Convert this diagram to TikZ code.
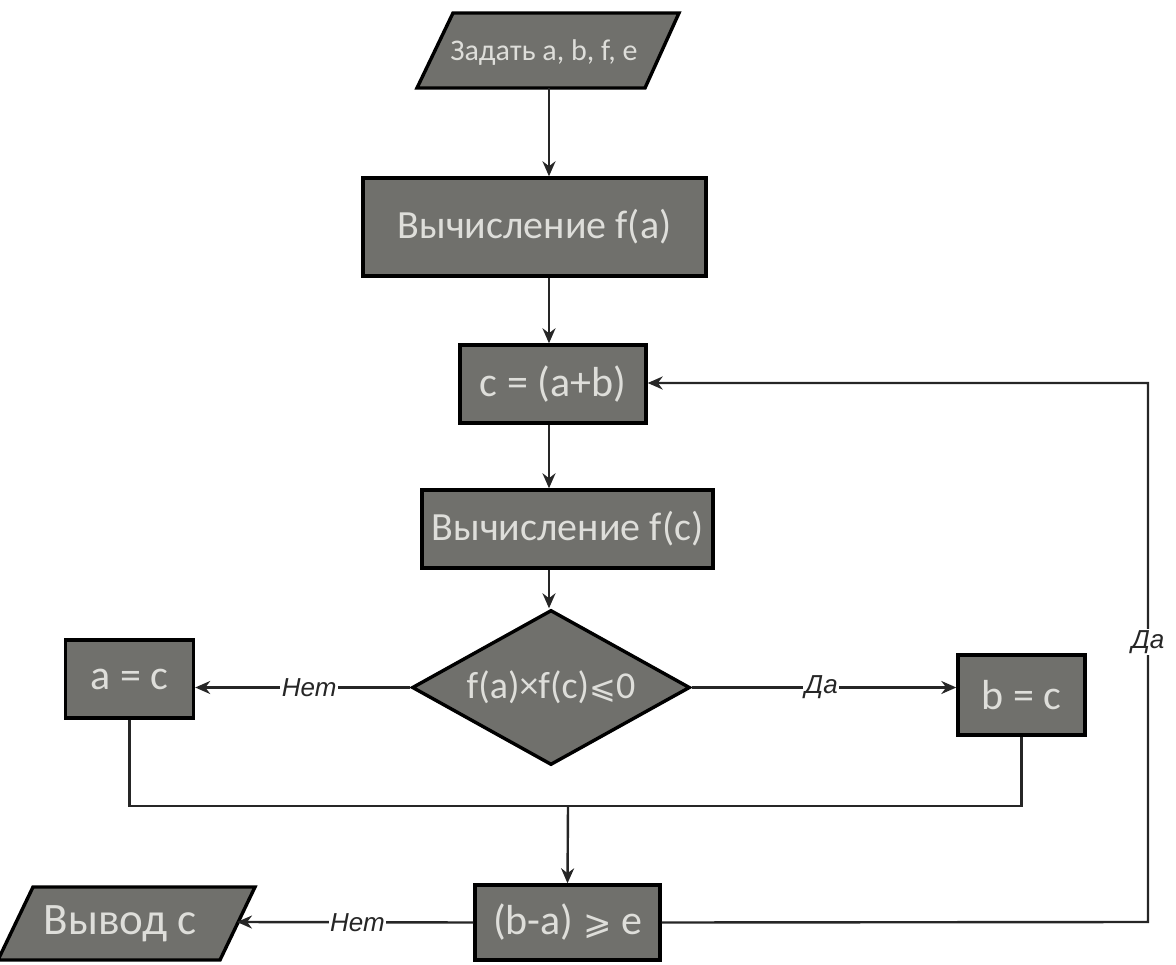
\documentclass[tikz,border=0pt]{standalone}
\usepackage{fontspec}
\setmainfont{Carlito}
\newfontfamily\labfont{Liberation Sans}
\newfontfamily\symfont{DejaVu Sans}
\usetikzlibrary{shapes.geometric,arrows.meta}
\definecolor{boxgray}{RGB}{112,112,108}
\definecolor{txtgray}{RGB}{222,222,218}
\tikzset{
  blk/.style={draw=black, line width=3.4pt, fill=boxgray, text=txtgray, inner sep=0pt},
  bigtxt/.style={font=\fontsize{40}{44}\selectfont},
  midtxt/.style={font=\fontsize{42}{46}\selectfont},
  conn/.style={draw=black!85, line width=2.4pt},
  arr/.style={conn, -{Stealth[length=15pt,width=13pt]}},
  lbl/.style={fill=white, inner sep=1.5pt, text=black!85, font=\labfont\itshape\fontsize{26}{28}\selectfont},
}
\begin{document}
\begin{tikzpicture}[x=1pt,y=-1pt]
\useasboundingbox (0,0) rectangle (1176,965);

% input parallelogram
\draw[blk] (453,13) -- (679,13) -- (645,88) -- (417,88) -- cycle;
\node[text=txtgray, font=\fontsize{30}{32}\selectfont] (inp) at (544,53) {Задать a, b, f, e};
\coordinate (inpb) at (549,88);

\node[blk, bigtxt, minimum width=343pt, minimum height=98pt] (fa) at (534.5,227) {Вычисление f(a)};
\node[blk, midtxt, minimum width=186pt, minimum height=78pt] (cab) at (553,384) {c = (a+b)};
\node[blk, bigtxt, minimum width=291pt, minimum height=78pt] (fc) at (567.5,529) {Вычисление f(c)};
\node[blk, diamond, font=\fontsize{38}{42}\selectfont, aspect=1.79, minimum width=278pt, minimum height=155pt] (dia) at (551,687.5) {f(a)×f(c){\symfont\fontsize{32}{36}\selectfont ⩽}0};
\node[blk, midtxt, minimum width=128pt, minimum height=78pt] (ac) at (129.5,679) {a = c};
\node[blk, midtxt, minimum width=127pt, minimum height=80pt] (bc) at (1021.5,695) {b = c};
\node[blk, midtxt, minimum width=185pt, minimum height=75pt] (ba) at (567.5,922.5) {(b-a) {\symfont\fontsize{34}{38}\selectfont ⩾} e};

% output parallelogram
\draw[blk] (33,887) -- (255,887) -- (220,960) -- (-2,960) -- cycle;
\node[text=txtgray, font=\fontsize{45}{48}\selectfont] (out) at (120,924) {Вывод с};
\coordinate (outr) at (237,922);

% connectors
\draw[arr] (inpb) -- (inpb |- fa.north);
\draw[arr] (inpb |- fa.south) -- (inpb |- cab.north);
\draw[arr] (inpb |- cab.south) -- (inpb |- fc.north);
\draw[arr] (inpb |- fc.south) -- (inpb |- dia.north);
\draw[arr] (dia.west) -- node[lbl, pos=0.47]{Нет} (dia.west -| ac.east);
\draw[arr] (dia.east) -- node[lbl, pos=0.49]{Да} (dia.east -| bc.west);
\coordinate (mrg) at (568,806);
\draw[conn] (ac.south) |- (mrg) -| (bc.south);
\draw[arr] (mrg) -- (ba.north);
\draw[arr] (ba.west) -- node[lbl, pos=0.49]{Нет} (outr);
\coordinate (rt) at (1148,922);
\coordinate (rtop) at (1148,383);
\draw[arr] (ba.east) -- (rt) -- node[lbl, pos=0.52]{Да} (rtop) -- (rtop -| cab.east);
\end{tikzpicture}
\end{document}
